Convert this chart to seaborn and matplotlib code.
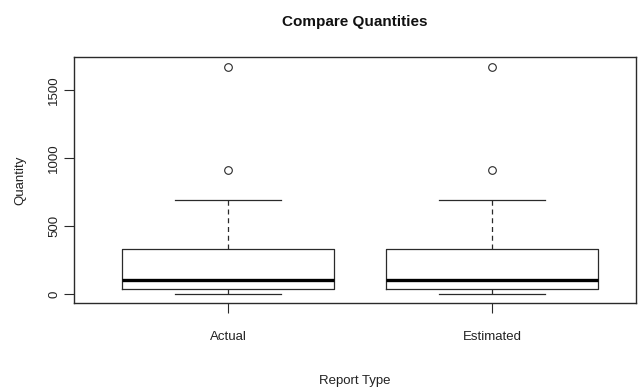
import matplotlib
matplotlib.use("Agg")
import matplotlib.pyplot as plt
import seaborn as sns
import pandas as pd

# Reported quantities per report type
report_types = ["Actual", "Estimated"]
actual_qty = [3, 15, 28, 35, 55, 80, 103, 160, 250, 329, 689, 912, 1671]
estimated_qty = [3, 15, 28, 35, 55, 80, 103, 160, 250, 329, 689, 912, 1671]
y_ticks = [0, 500, 1000, 1500]

df = pd.DataFrame({
    "Report Type": [report_types[0]] * len(actual_qty) + [report_types[1]] * len(estimated_qty),
    "Quantity": actual_qty + estimated_qty,
})

plt.rcParams["font.family"] = ["Liberation Sans", "DejaVu Sans"]
ink = "#2a2a2a"

fig = plt.figure(figsize=(6.38, 3.91), dpi=100)
ax = fig.add_axes([74 / 638, 1 - 303 / 391, (636 - 74) / 638, (303 - 57) / 391])

sns.boxplot(
    data=df, x="Report Type", y="Quantity", order=report_types, ax=ax,
    width=0.8, fill=False, color=ink, linewidth=0.9, whis=1.5,
    boxprops=dict(color=ink, linewidth=0.9),
    whiskerprops=dict(color=ink, linestyle=(0, (4, 3)), linewidth=0.9),
    capprops=dict(color=ink, linewidth=0.9),
    medianprops=dict(color="black", linewidth=2.4),
    flierprops=dict(marker="o", markersize=5.5, markerfacecolor="none",
                    markeredgecolor=ink, markeredgewidth=0.8),
)

ax.set_xlim(-0.583, 1.545)
ax.set_ylim(-66, 1743)
ax.set_yticks(y_ticks)
ax.set_yticklabels([str(t) for t in y_ticks], rotation=90, va="center", fontsize=9.5, color="#222")
ax.tick_params(axis="y", length=7, width=0.8, color=ink, pad=3)
ax.tick_params(axis="x", length=7, width=0.8, color=ink, pad=13, labelsize=9.5, labelcolor="#222")
for s in ax.spines.values():
    s.set_color(ink)
    s.set_linewidth(1.0)

ax.set_xlabel("Report Type", fontsize=9.5, color="#222", labelpad=23)
ax.set_ylabel("Quantity", fontsize=9.5, color="#222", labelpad=16)
ax.set_title("Compare Quantities", fontsize=11, fontweight="bold", color="#111", pad=22)

fig.savefig("out.png", dpi=100)
